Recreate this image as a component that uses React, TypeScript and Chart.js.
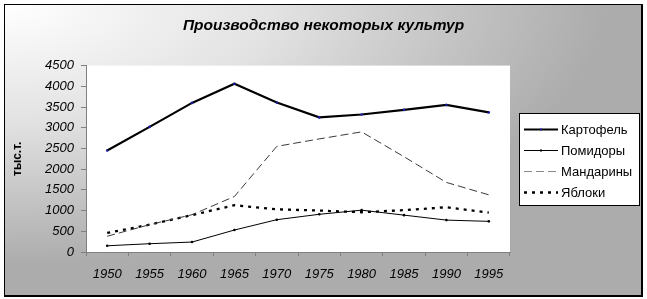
import React, { useEffect, useRef } from 'react';
import { Chart, registerables, layouts } from 'chart.js';

Chart.register(...registerables);

const chartTitle = 'Производство некоторых культур';
const yAxisTitle = 'тыс.т.';
const years = ['1950', '1955', '1960', '1965', '1970', '1975', '1980', '1985', '1990', '1995'];
const potatoes = [2450, 3020, 3600, 4060, 3610, 3250, 3320, 3430, 3550, 3370];
const tomatoes = [150, 200, 240, 530, 780, 910, 1010, 890, 770, 740];
const mandarins = [380, 660, 900, 1340, 2550, 2730, 2900, 2300, 1680, 1380];
const apples = [460, 660, 890, 1130, 1030, 1000, 960, 1010, 1080, 950];
const yTicks = [0, 500, 1000, 1500, 2000, 2500, 3000, 3500, 4000, 4500];
const seriesNames = ['Картофель', 'Помидоры', 'Мандарины', 'Яблоки'];

const FONT = "'Liberation Sans', Arial, sans-serif";

const backgroundPlugin = {
  id: 'bgFrame',
  beforeDraw(chart: any) {
    const { ctx, width, height, chartArea } = chart;
    ctx.save();
    ctx.fillStyle = '#ffffff';
    ctx.fillRect(0, 0, width, height);
    const x0 = 5, y0 = 5, x1 = 641, y1 = 295;
    ctx.save();
    ctx.beginPath();
    ctx.rect(x0, y0, x1 - x0, y1 - y0);
    ctx.clip();
    ctx.translate(x0, y0);
    ctx.scale(600, 260);
    const g = ctx.createRadialGradient(0, 0, 0, 0, 0, 1);
    g.addColorStop(0, '#ffffff');
    g.addColorStop(0.45, '#e2e2e2');
    g.addColorStop(0.75, '#c4c4c4');
    g.addColorStop(1, '#acacac');
    ctx.fillStyle = g;
    ctx.fillRect(0, 0, 2, 2);
    ctx.restore();
    ctx.fillStyle = '#000';
    ctx.fillRect(x0 - 1, y0 - 1, x1 - x0 + 2, 1);
    ctx.fillRect(x0 - 1, y0 - 1, 1, y1 - y0 + 2);
    ctx.fillRect(x1, y0 - 1, 2, y1 - y0 + 3);
    ctx.fillRect(x0 - 1, y1, x1 - x0 + 3, 2);
    ctx.fillStyle = '#ffffff';
    ctx.fillRect(chartArea.left, chartArea.top, chartArea.right - chartArea.left, chartArea.bottom - chartArea.top);
    ctx.restore();
  },
};

// reserves room on the right for the boxed legend, without narrowing the title
const spacerPlugin = {
  id: 'rightSpacer',
  beforeInit(chart: any) {
    const box: any = {
      position: 'right',
      weight: 100,
      fullSize: false,
      options: {},
      width: 0,
      height: 0,
      left: 0,
      top: 0,
      right: 0,
      bottom: 0,
      isHorizontal: () => false,
      update(maxWidth: number, maxHeight: number) {
        this.width = 137;
        this.height = maxHeight;
      },
      draw() {},
    };
    layouts.addBox(chart, box);
  },
};

const legendPlugin = {
  id: 'boxLegend',
  afterDraw(chart: any) {
    const { ctx } = chart;
    const bx = 519.5, by = 113.5, bw = 120, bh = 92;
    ctx.save();
    ctx.fillStyle = '#ffffff';
    ctx.fillRect(bx, by, bw, bh);
    ctx.strokeStyle = '#000';
    ctx.lineWidth = 1;
    ctx.setLineDash([]);
    ctx.strokeRect(bx, by, bw, bh);
    chart.data.datasets.forEach((ds: any, i: number) => {
      const y = 129 + i * 21;
      ctx.save();
      ctx.strokeStyle = ds.legendColor || ds.borderColor;
      ctx.lineWidth = ds.borderWidth;
      ctx.setLineDash(ds.borderDash || []);
      ctx.beginPath();
      ctx.moveTo(524, y + 0.5);
      ctx.lineTo(558, y + 0.5);
      ctx.stroke();
      if (ds.pointRadius > 0) {
        ctx.fillStyle = ds.pointBackgroundColor;
        ctx.fillRect(540, y - 0.5, 2, 2);
      }
      ctx.restore();
      ctx.fillStyle = '#000';
      ctx.font = `13px ${FONT}`;
      ctx.textBaseline = 'middle';
      ctx.textAlign = 'left';
      ctx.fillText(ds.label, 561, y + 1);
    });
    ctx.restore();
  },
};

export default function App() {
  const canvasRef = useRef<HTMLCanvasElement | null>(null);

  useEffect(() => {
    const canvas = canvasRef.current;
    if (!canvas) return;
    const chart = new Chart(canvas, {
      type: 'line',
      data: {
        labels: years,
        datasets: [
          {
            label: seriesNames[0],
            data: potatoes,
            borderColor: '#000000',
            borderWidth: 2.2,
            pointRadius: 1.3,
            pointBorderWidth: 0,
            pointBackgroundColor: '#1c1ca0',
            tension: 0,
          },
          {
            label: seriesNames[1],
            data: tomatoes,
            borderColor: '#000000',
            borderWidth: 1,
            pointRadius: 1.3,
            pointBorderWidth: 0,
            pointBackgroundColor: '#000000',
            tension: 0,
          },
          {
            label: seriesNames[2],
            data: mandarins,
            borderColor: '#3a3a3a',
            legendColor: '#8a8a8a',
            borderWidth: 1,
            borderDash: [8, 4],
            pointRadius: 0,
            tension: 0,
          } as any,
          {
            label: seriesNames[3],
            data: apples,
            borderColor: '#000000',
            borderWidth: 2.3,
            borderDash: [3, 5],
            pointRadius: 0,
            tension: 0,
          },
        ],
      },
      options: {
        animation: false,
        responsive: false,
        maintainAspectRatio: false,
        layout: { padding: { top: 0, left: 0, right: 0, bottom: 0 } },
        plugins: {
          legend: { display: false },
          tooltip: { enabled: false },
          title: {
            display: true,
            fullSize: true,
            text: chartTitle,
            color: '#000',
            font: { family: FONT, size: 15.5, weight: 'bold', style: 'italic', lineHeight: 1.2 },
            padding: { top: 16, bottom: 31 },
          },
        },
        scales: {
          x: {
            type: 'category',
            offset: true,
            grid: { offset: true, drawOnChartArea: false, drawTicks: true, tickLength: 4, color: '#808080' },
            border: { display: true, color: '#808080' },
            ticks: {
              color: '#000',
              font: { family: FONT, size: 13, style: 'italic' },
              padding: 11,
              maxRotation: 0,
              autoSkip: false,
            },
            afterFit: (s: any) => { s.height = 47; },
          },
          y: {
            min: 0,
            max: 4500,
            afterBuildTicks: (s: any) => { s.ticks = yTicks.map((v) => ({ value: v })); },
            grid: { drawOnChartArea: false, drawTicks: true, tickLength: 5, color: '#808080' },
            border: { display: true, color: '#808080' },
            ticks: {
              color: '#000',
              font: { family: FONT, size: 13, style: 'italic' },
              padding: 7,
              callback: (v: any) => String(v),
            },
            title: {
              display: true,
              text: yAxisTitle,
              color: '#000',
              font: { family: FONT, size: 12, weight: 'bold', lineHeight: 1.2 },
              padding: { top: 10, bottom: 0 },
            },
            afterFit: (s: any) => { s.width = 86; },
          },
        },
      },
      plugins: [spacerPlugin, backgroundPlugin, legendPlugin],
    });
    return () => chart.destroy();
  }, []);

  return (
    <div style={{ position: 'fixed', left: 0, top: 0, width: 647, height: 299 }}>
      <canvas ref={canvasRef} width={647} height={299} style={{ display: 'block', width: 647, height: 299 }} />
    </div>
  );
}
